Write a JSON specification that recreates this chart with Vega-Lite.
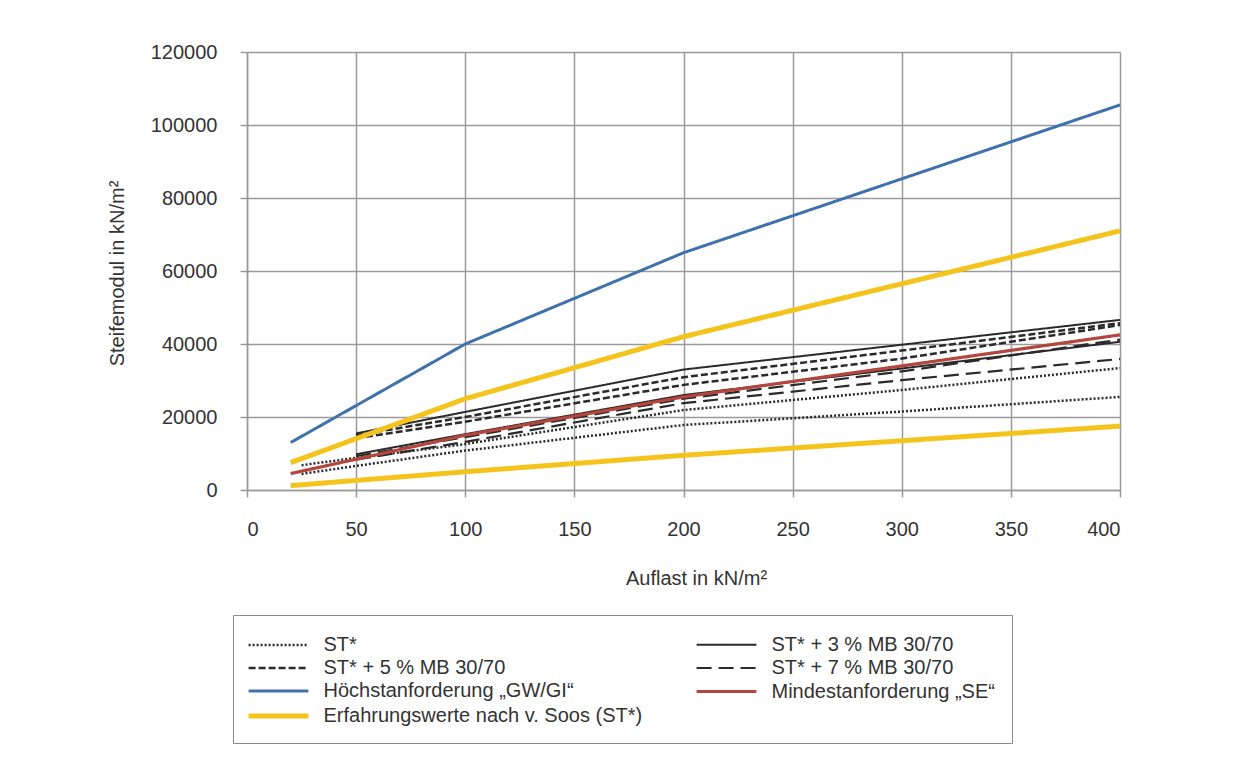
{
  "$schema": "https://vega.github.io/schema/vega-lite/v6.json",
  "width": 873,
  "height": 438,
  "autosize": {"type": "none"},
  "padding": {"left": 247, "top": 52, "right": 128, "bottom": 284},
  "background": "white",
  "config": {
    "view": {"stroke": null},
    "font": "Liberation Sans",
    "legend": {
      "orient": "none",
      "legendX": -14,
      "legendY": 563,
      "columns": 2,
      "columnPadding": 47,
      "rowPadding": 0,
      "padding": 17,
      "strokeColor": "#8a8a8a",
      "fillColor": "white",
      "symbolType": "M-2.6,0L2.6,0",
      "symbolSize": 529,
      "symbolOffset": 14.5,
      "labelFontSize": 20,
      "labelColor": "#333333",
      "labelOffset": 31,
      "labelLimit": 500,
      "title": null
    }
  },
  "data": {
    "values": [
      {"s": "ST*", "id": "st1", "x": 25, "y": 6800},
      {"s": "ST*", "id": "st1", "x": 50, "y": 8800},
      {"s": "ST*", "id": "st1", "x": 100, "y": 12600},
      {"s": "ST*", "id": "st1", "x": 200, "y": 21900},
      {"s": "ST*", "id": "st1", "x": 300, "y": 27400},
      {"s": "ST*", "id": "st1", "x": 400, "y": 33400},
      {"s": "ST*", "id": "st2", "x": 25, "y": 4400},
      {"s": "ST*", "id": "st2", "x": 50, "y": 6600},
      {"s": "ST*", "id": "st2", "x": 100, "y": 10800},
      {"s": "ST*", "id": "st2", "x": 200, "y": 17800},
      {"s": "ST*", "id": "st2", "x": 300, "y": 21500},
      {"s": "ST*", "id": "st2", "x": 400, "y": 25500},
      {"s": "ST* + 7 % MB 30/70", "id": "m7a", "x": 50, "y": 9300},
      {"s": "ST* + 7 % MB 30/70", "id": "m7a", "x": 100, "y": 14500},
      {"s": "ST* + 7 % MB 30/70", "id": "m7a", "x": 200, "y": 25000},
      {"s": "ST* + 7 % MB 30/70", "id": "m7a", "x": 300, "y": 32500},
      {"s": "ST* + 7 % MB 30/70", "id": "m7a", "x": 400, "y": 41200},
      {"s": "ST* + 7 % MB 30/70", "id": "m7b", "x": 50, "y": 8300},
      {"s": "ST* + 7 % MB 30/70", "id": "m7b", "x": 100, "y": 13200},
      {"s": "ST* + 7 % MB 30/70", "id": "m7b", "x": 200, "y": 23800},
      {"s": "ST* + 7 % MB 30/70", "id": "m7b", "x": 300, "y": 30100},
      {"s": "ST* + 7 % MB 30/70", "id": "m7b", "x": 400, "y": 35900},
      {"s": "ST* + 5 % MB 30/70", "id": "m5a", "x": 50, "y": 15000},
      {"s": "ST* + 5 % MB 30/70", "id": "m5a", "x": 100, "y": 20000},
      {"s": "ST* + 5 % MB 30/70", "id": "m5a", "x": 200, "y": 30900},
      {"s": "ST* + 5 % MB 30/70", "id": "m5a", "x": 300, "y": 38200},
      {"s": "ST* + 5 % MB 30/70", "id": "m5a", "x": 400, "y": 45700},
      {"s": "ST* + 5 % MB 30/70", "id": "m5b", "x": 50, "y": 14200},
      {"s": "ST* + 5 % MB 30/70", "id": "m5b", "x": 100, "y": 18700},
      {"s": "ST* + 5 % MB 30/70", "id": "m5b", "x": 200, "y": 28800},
      {"s": "ST* + 5 % MB 30/70", "id": "m5b", "x": 300, "y": 36000},
      {"s": "ST* + 5 % MB 30/70", "id": "m5b", "x": 400, "y": 45200},
      {"s": "ST* + 3 % MB 30/70", "id": "m3a", "x": 50, "y": 15500},
      {"s": "ST* + 3 % MB 30/70", "id": "m3a", "x": 100, "y": 21400},
      {"s": "ST* + 3 % MB 30/70", "id": "m3a", "x": 200, "y": 33000},
      {"s": "ST* + 3 % MB 30/70", "id": "m3a", "x": 400, "y": 46600},
      {"s": "ST* + 3 % MB 30/70", "id": "m3b", "x": 50, "y": 9800},
      {"s": "ST* + 3 % MB 30/70", "id": "m3b", "x": 100, "y": 15300},
      {"s": "ST* + 3 % MB 30/70", "id": "m3b", "x": 200, "y": 26000},
      {"s": "ST* + 3 % MB 30/70", "id": "m3b", "x": 400, "y": 40600},
      {"s": "Erfahrungswerte nach v. Soos (ST*)", "id": "e1", "x": 20, "y": 7500},
      {"s": "Erfahrungswerte nach v. Soos (ST*)", "id": "e1", "x": 100, "y": 25000},
      {"s": "Erfahrungswerte nach v. Soos (ST*)", "id": "e1", "x": 200, "y": 42000},
      {"s": "Erfahrungswerte nach v. Soos (ST*)", "id": "e1", "x": 400, "y": 71000},
      {"s": "Erfahrungswerte nach v. Soos (ST*)", "id": "e2", "x": 20, "y": 1200},
      {"s": "Erfahrungswerte nach v. Soos (ST*)", "id": "e2", "x": 100, "y": 5000},
      {"s": "Erfahrungswerte nach v. Soos (ST*)", "id": "e2", "x": 200, "y": 9500},
      {"s": "Erfahrungswerte nach v. Soos (ST*)", "id": "e2", "x": 400, "y": 17500},
      {"s": "Mindestanforderung \u201eSE\u201c", "id": "min", "x": 20, "y": 4500},
      {"s": "Mindestanforderung \u201eSE\u201c", "id": "min", "x": 100, "y": 15000},
      {"s": "Mindestanforderung \u201eSE\u201c", "id": "min", "x": 200, "y": 25500},
      {"s": "Mindestanforderung \u201eSE\u201c", "id": "min", "x": 400, "y": 42500},
      {"s": "H\u00f6chstanforderung \u201eGW/GI\u201c", "id": "max", "x": 20, "y": 13000},
      {"s": "H\u00f6chstanforderung \u201eGW/GI\u201c", "id": "max", "x": 100, "y": 40000},
      {"s": "H\u00f6chstanforderung \u201eGW/GI\u201c", "id": "max", "x": 200, "y": 65000},
      {"s": "H\u00f6chstanforderung \u201eGW/GI\u201c", "id": "max", "x": 400, "y": 105500}
    ]
  },
  "mark": {"type": "line", "strokeCap": "butt", "strokeJoin": "round"},
  "encoding": {
    "x": {
      "field": "x",
      "type": "quantitative",
      "scale": {"domain": [0, 400], "nice": false, "zero": false},
      "axis": {
        "values": [0, 50, 100, 150, 200, 250, 300, 350, 400],
        "title": "Auflast in kN/m\u00b2",
        "titleFontSize": 20,
        "titleFontWeight": "normal",
        "titleColor": "#333333",
        "titleX": 449,
        "titleY": 88,
        "titleBaseline": "middle",
        "labelFontSize": 20,
        "labelColor": "#333333",
        "labelPadding": 22,
        "tickSize": 7,
        "tickColor": "#9a9a9a",
        "tickWidth": 1.5,
        "domainColor": "#9a9a9a",
        "domainWidth": 1.5,
        "gridColor": "#9a9a9a",
        "gridWidth": 1.5,
        "grid": true
      }
    },
    "y": {
      "field": "y",
      "type": "quantitative",
      "scale": {"domain": [0, 120000], "nice": false},
      "axis": {
        "values": [0, 20000, 40000, 60000, 80000, 100000, 120000],
        "format": "d",
        "title": "Steifemodul in kN/m\u00b2",
        "titleFontSize": 20,
        "titleFontWeight": "normal",
        "titleColor": "#333333",
        "titleX": -130,
        "titleY": 221,
        "titleAngle": -90,
        "titleAlign": "center",
        "titleBaseline": "middle",
        "labelFontSize": 20,
        "labelColor": "#333333",
        "labelPadding": 23,
        "tickSize": 7,
        "tickColor": "#9a9a9a",
        "tickWidth": 1.5,
        "domainColor": "#9a9a9a",
        "domainWidth": 1.5,
        "gridColor": "#9a9a9a",
        "gridWidth": 1.5,
        "grid": true
      }
    },
    "detail": {"field": "id"},
    "color": {
      "field": "s",
      "type": "nominal",
      "scale": {
        "domain": ["ST*", "ST* + 5 % MB 30/70", "H\u00f6chstanforderung \u201eGW/GI\u201c", "Erfahrungswerte nach v. Soos (ST*)", "ST* + 3 % MB 30/70", "ST* + 7 % MB 30/70", "Mindestanforderung \u201eSE\u201c"],
        "range": ["#2a2a2a", "#2a2a2a", "#3f72ab", "#f4c31c", "#2a2a2a", "#2a2a2a", "#b4463e"]
      },
      "legend": {"title": null}
    },
    "strokeDash": {
      "field": "s",
      "type": "nominal",
      "scale": {
        "domain": ["ST*", "ST* + 5 % MB 30/70", "H\u00f6chstanforderung \u201eGW/GI\u201c", "Erfahrungswerte nach v. Soos (ST*)", "ST* + 3 % MB 30/70", "ST* + 7 % MB 30/70", "Mindestanforderung \u201eSE\u201c"],
        "range": [[2, 2], [7, 3], [1, 0], [1, 0], [1, 0], [15, 7], [1, 0]]
      },
      "legend": {"title": null}
    },
    "strokeWidth": {
      "field": "s",
      "type": "nominal",
      "scale": {
        "type": "ordinal",
        "domain": ["ST*", "ST* + 5 % MB 30/70", "H\u00f6chstanforderung \u201eGW/GI\u201c", "Erfahrungswerte nach v. Soos (ST*)", "ST* + 3 % MB 30/70", "ST* + 7 % MB 30/70", "Mindestanforderung \u201eSE\u201c"],
        "range": [2.5, 2.5, 3, 5, 2, 2.2, 3.2]
      },
      "legend": {"title": null}
    }
  }
}
